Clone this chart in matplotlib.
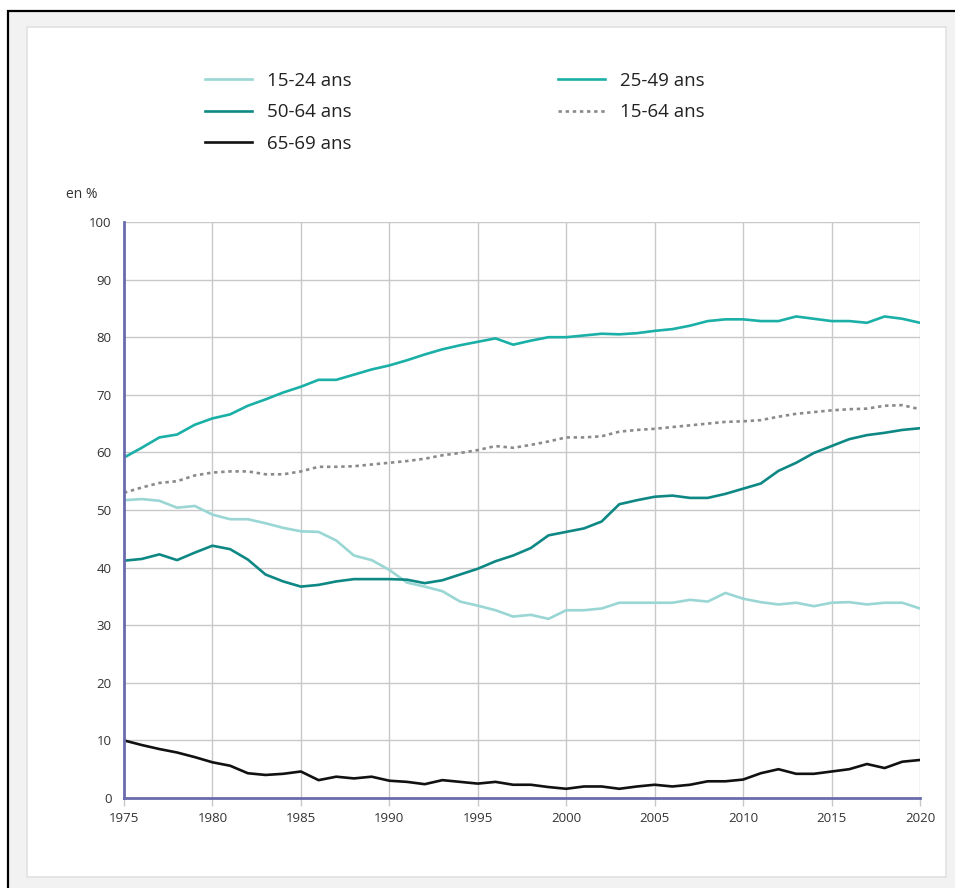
import numpy as np
import matplotlib
matplotlib.use("Agg")
import matplotlib.pyplot as plt
from matplotlib.patches import Rectangle

plt.rcParams['font.family'] = ['Open Sans', 'DejaVu Sans']

years = np.arange(1975, 2021)

# taux d'emploi par tranche d'age, en %
t15_24 = [51.7, 51.9, 51.6, 50.4, 50.7, 49.2, 48.4, 48.4, 47.7, 46.9,
          46.3, 46.2, 44.7, 42.1, 41.3, 39.6, 37.4, 36.7, 35.9, 34.1,
          33.4, 32.6, 31.5, 31.8, 31.1, 32.6, 32.6, 32.9, 33.9, 33.9,
          33.9, 33.9, 34.4, 34.1, 35.6, 34.6, 34.0, 33.6, 33.9, 33.3,
          33.9, 34.0, 33.6, 33.9, 33.9, 32.9]
t25_49 = [59.1, 60.8, 62.6, 63.1, 64.8, 65.9, 66.6, 68.1, 69.2, 70.4,
          71.4, 72.6, 72.6, 73.5, 74.4, 75.1, 76.0, 77.0, 77.9, 78.6,
          79.2, 79.8, 78.7, 79.4, 80.0, 80.0, 80.3, 80.6, 80.5, 80.7,
          81.1, 81.4, 82.0, 82.8, 83.1, 83.1, 82.8, 82.8, 83.6, 83.2,
          82.8, 82.8, 82.5, 83.6, 83.2, 82.5]
t50_64 = [41.2, 41.5, 42.3, 41.3, 42.6, 43.8, 43.2, 41.4, 38.8, 37.6,
          36.7, 37.0, 37.6, 38.0, 38.0, 38.0, 37.9, 37.3, 37.8, 38.8,
          39.8, 41.1, 42.1, 43.4, 45.6, 46.2, 46.8, 48.0, 51.0, 51.7,
          52.3, 52.5, 52.1, 52.1, 52.8, 53.7, 54.6, 56.8, 58.2, 59.9,
          61.1, 62.3, 63.0, 63.4, 63.9, 64.2]
t15_64 = [53.0, 53.9, 54.7, 55.0, 56.0, 56.5, 56.7, 56.7, 56.2, 56.2,
          56.7, 57.5, 57.5, 57.6, 57.9, 58.2, 58.5, 58.9, 59.5, 59.9,
          60.4, 61.1, 60.8, 61.3, 61.9, 62.6, 62.6, 62.8, 63.6, 63.9,
          64.1, 64.4, 64.7, 65.0, 65.3, 65.4, 65.6, 66.2, 66.7, 67.0,
          67.3, 67.5, 67.6, 68.1, 68.2, 67.5]
t65_69 = [10.0, 9.2, 8.5, 7.9, 7.1, 6.2, 5.6, 4.3, 4.0, 4.2,
          4.6, 3.1, 3.7, 3.4, 3.7, 3.0, 2.8, 2.4, 3.1, 2.8,
          2.5, 2.8, 2.3, 2.3, 1.9, 1.6, 2.0, 2.0, 1.6, 2.0,
          2.3, 2.0, 2.3, 2.9, 2.9, 3.2, 4.3, 5.0, 4.2, 4.2,
          4.6, 5.0, 5.9, 5.2, 6.3, 6.6]

fig = plt.figure(figsize=(9.55, 8.88), dpi=100, facecolor='white')

# cadre exterieur + panneau blanc
fig.patches.append(Rectangle((8 / 955, -0.05), 1.1, 0.05 + 1 - 11 / 888,
                             transform=fig.transFigure, facecolor='#f2f2f2',
                             edgecolor='black', linewidth=1.6, zorder=-10))
fig.patches.append(Rectangle((27 / 955, 1 - 877 / 888), (946 - 27) / 955, (877 - 27) / 888,
                             transform=fig.transFigure, facecolor='white',
                             edgecolor='#e2e2e2', linewidth=1.2, zorder=-9))

ax = fig.add_axes([124 / 955, 1 - 798 / 888, (920 - 124) / 955, (798 - 222) / 888])
ax.set_facecolor('none')
ax.set_zorder(1)

lw = 1.9
l1, = ax.plot(years, t15_24, color='#99d6d4', lw=lw, label='15-24 ans')
l2, = ax.plot(years, t25_49, color='#1aafa7', lw=lw, label='25-49 ans')
l3, = ax.plot(years, t50_64, color='#0e8884', lw=lw, label='50-64 ans')
l4, = ax.plot(years, t15_64, color='#8a8a8a', lw=lw, dashes=(1.3, 1.4), label='15-64 ans')
l5, = ax.plot(years, t65_69, color='#111111', lw=lw, label='65-69 ans')

ax.set_xlim(1975, 2020)
ax.set_ylim(0, 100)
ax.set_xticks(range(1975, 2021, 5))
ax.set_yticks(range(0, 101, 10))
ax.grid(True, color='#c8c8c8', lw=1.0)
ax.set_axisbelow(True)
for s in ['top', 'right']:
    ax.spines[s].set_visible(False)
for s in ['left', 'bottom']:
    ax.spines[s].set_color('#6a6aae')
    ax.spines[s].set_linewidth(2)
ax.tick_params(axis='x', length=6, width=1, color='#c8c8c8', labelsize=9.5,
               labelcolor='#333333', pad=4)
ax.tick_params(axis='y', length=0, labelsize=9.5, labelcolor='#333333', pad=9)

fig.text(66 / 955, 1 - 195 / 888, 'en %', fontsize=10, color='#333333', va='center')

fig.legend(handles=[l1, l3, l5, l2, l4], ncol=2, loc='upper left',
           bbox_to_anchor=(188 / 955, 1 - 55 / 888), frameon=False,
           fontsize=13.5, handlelength=2.5, handletextpad=0.8,
           columnspacing=11.0, labelspacing=0.72, labelcolor='#222222')

fig.savefig('out.png', dpi=100, facecolor='white')
